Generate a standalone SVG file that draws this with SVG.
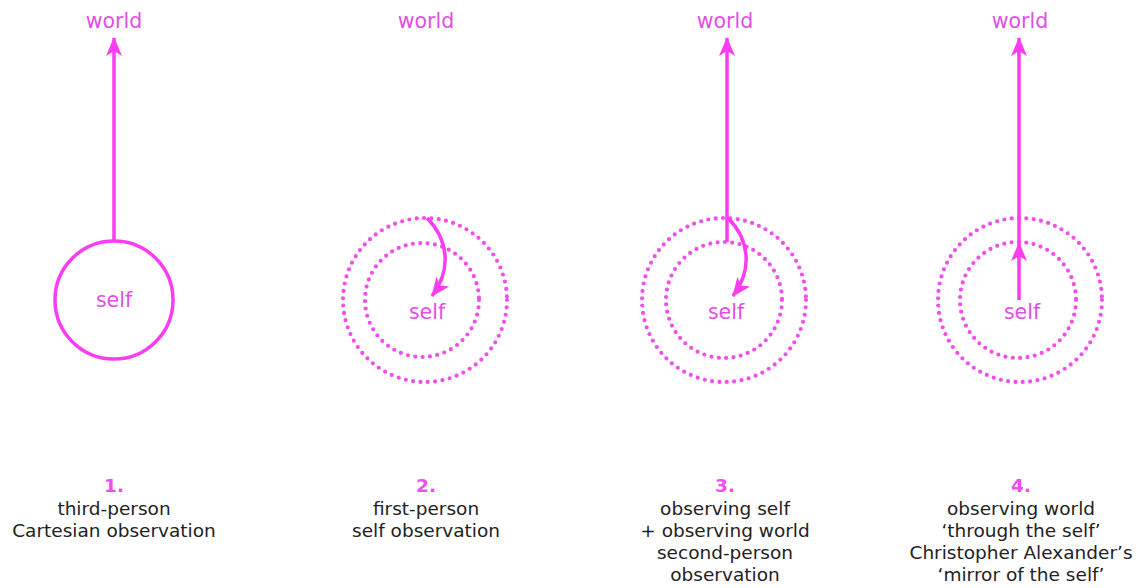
<svg xmlns="http://www.w3.org/2000/svg" width="1138" height="588" viewBox="0 0 1138 588">
<style>
.ln{fill:none;stroke:#fb3df2;stroke-width:3.5}
.dot{fill:none;stroke:#f24ded;stroke-width:4.2;stroke-linecap:round;stroke-dasharray:0 7.4}
.pk{font-family:"DejaVu Sans",Verdana,sans-serif;font-size:20.5px;fill:#e34fe3;text-anchor:middle}
.num{font-family:"DejaVu Sans",Verdana,sans-serif;font-size:18.5px;font-weight:bold;fill:#f04cee;text-anchor:middle}
.cap{font-family:"DejaVu Sans",Verdana,sans-serif;font-size:18.5px;fill:#222;text-anchor:middle}
</style>
<defs>
<marker id="ah" markerUnits="userSpaceOnUse" markerWidth="24" markerHeight="24" viewBox="-20 -10 24 20" refX="0" refY="0" orient="auto">
<path d="M1,0 L-18,-8 L-13,0 L-18,8 Z" fill="#fb3df2"/>
</marker>
</defs>
<g id="panel1">
<text class="pk" x="114" y="28">world</text>
<circle class="ln" cx="114" cy="300" r="59"/>
<text class="pk" x="114" y="307">self</text>
<text class="num" x="114" y="492">1.</text>
<text class="cap" x="114" y="515">third-person</text>
<text class="cap" x="114" y="537">Cartesian observation</text>
</g>
<g id="panel2">
<text class="pk" x="426" y="28">world</text>
<circle class="dot" cx="425" cy="300" r="82"/>
<circle class="dot" cx="422" cy="300" r="57"/>
<text class="pk" x="427" y="319">self</text>
<text class="num" x="426" y="492">2.</text>
<text class="cap" x="426" y="515">first-person</text>
<text class="cap" x="426" y="537">self observation</text>
</g>
<g id="panel3">
<text class="pk" x="725" y="28">world</text>
<circle class="dot" cx="724" cy="300" r="82"/>
<circle class="dot" cx="724" cy="300" r="58"/>
<text class="pk" x="726" y="319">self</text>
<text class="num" x="725" y="492">3.</text>
<text class="cap" x="725" y="515">observing self</text>
<text class="cap" x="725" y="537">+ observing world</text>
<text class="cap" x="725" y="559">second-person</text>
<text class="cap" x="725" y="581">observation</text>
</g>
<g id="panel4">
<text class="pk" x="1020" y="28">world</text>
<circle class="dot" cx="1020" cy="300" r="82"/>
<circle class="dot" cx="1018" cy="300" r="58"/>
<text class="pk" x="1022" y="319">self</text>
<text class="num" x="1021" y="492">4.</text>
<text class="cap" x="1021" y="515">observing world</text>
<text class="cap" x="1021" y="537">‘through the self’</text>
<text class="cap" x="1021" y="559">Christopher Alexander’s</text>
<text class="cap" x="1021" y="581">‘mirror of the self’</text>
</g>
<g id="connectors">
<path class="ln" d="M114,241 V38" marker-end="url(#ah)"/>
<path class="ln" d="M427,218 C447,238 453,268 432,296" marker-end="url(#ah)"/>
<path class="ln" d="M727,242 V38" marker-end="url(#ah)"/>
<path class="ln" d="M728,218 C748,238 754,268 733,296" marker-end="url(#ah)"/>
<path class="ln" d="M1019,300 V243" marker-end="url(#ah)"/>
<path class="ln" d="M1019,243 V38" marker-end="url(#ah)"/>
</g>
</svg>
